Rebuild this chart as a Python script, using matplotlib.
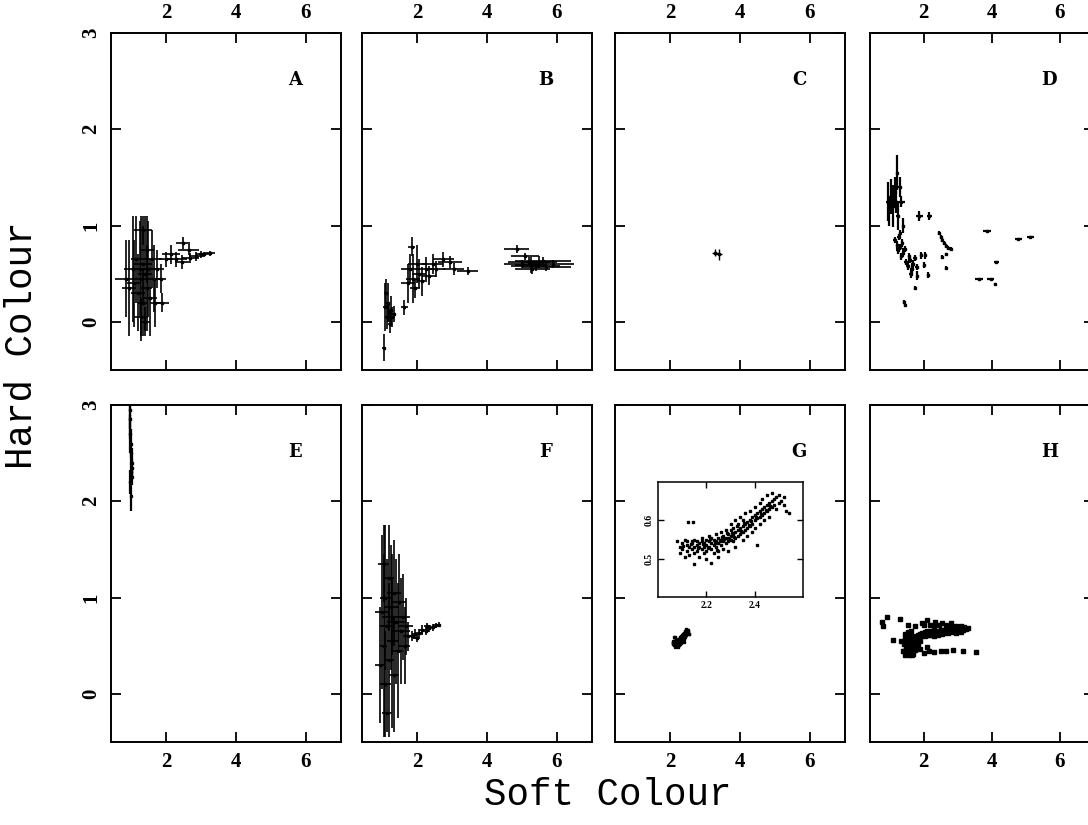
import matplotlib
matplotlib.use("Agg")
import matplotlib.pyplot as plt

# ================================
# DATA: (x, y, x-err, y-err)
# ================================
panel_a = [
    (0.85, 0.45, 0.30, 0.40), (0.95, 0.35, 0.20, 0.50), (1.05, 0.55, 0.25, 0.55),
    (1.10, 0.40, 0.20, 0.45), (1.15, 0.65, 0.15, 0.45), (1.20, 0.30, 0.20, 0.40),
    (1.25, 0.55, 0.20, 0.50), (1.30, 0.45, 0.15, 0.65), (1.35, 0.60, 0.25, 0.40),
    (1.35, 0.20, 0.15, 0.35), (1.40, 0.50, 0.20, 0.60), (1.45, 0.35, 0.15, 0.45),
    (1.45, 0.75, 0.20, 0.35), (1.50, 0.55, 0.25, 0.50), (1.55, 0.25, 0.20, 0.40),
    (1.30, 0.05, 0.20, 0.20), (1.40, 0.00, 0.15, 0.15), (1.60, 0.65, 0.30, 0.30),
    (1.65, 0.45, 0.20, 0.35), (1.70, 0.20, 0.15, 0.25), (1.35, 0.95, 0.25, 0.15),
    (1.75, 0.55, 0.20, 0.20), (1.85, 0.45, 0.15, 0.15), (1.90, 0.20, 0.20, 0.10),
    (2.00, 0.65, 0.20, 0.08), (2.15, 0.70, 0.25, 0.10), (2.30, 0.65, 0.30, 0.08),
    (2.45, 0.62, 0.20, 0.07), (2.50, 0.82, 0.20, 0.06), (2.65, 0.75, 0.30, 0.06),
    (2.70, 0.66, 0.25, 0.05), (2.85, 0.68, 0.20, 0.05), (3.00, 0.70, 0.15, 0.04),
    (3.10, 0.70, 0.15, 0.03), (3.25, 0.71, 0.15, 0.03),
]

panel_b = [
    (1.05, -0.27, 0.05, 0.14), (1.10, 0.15, 0.06, 0.25), (1.12, 0.30, 0.05, 0.15),
    (1.15, 0.05, 0.05, 0.12), (1.18, 0.20, 0.06, 0.20), (1.20, 0.10, 0.05, 0.10),
    (1.22, -0.02, 0.06, 0.10), (1.25, 0.12, 0.05, 0.15), (1.30, 0.05, 0.08, 0.10),
    (1.35, 0.08, 0.06, 0.08), (1.63, 0.15, 0.10, 0.08), (1.75, 0.40, 0.20, 0.20),
    (1.80, 0.55, 0.25, 0.15), (1.85, 0.78, 0.10, 0.10), (1.90, 0.45, 0.20, 0.25),
    (1.95, 0.35, 0.15, 0.10), (2.00, 0.60, 0.25, 0.20), (2.05, 0.50, 0.20, 0.15),
    (2.15, 0.42, 0.15, 0.15), (2.25, 0.55, 0.25, 0.12), (2.35, 0.48, 0.20, 0.10),
    (2.45, 0.60, 0.30, 0.10), (2.55, 0.55, 0.25, 0.08), (2.75, 0.65, 0.30, 0.08),
    (2.95, 0.62, 0.35, 0.06), (3.05, 0.55, 0.30, 0.06), (3.45, 0.53, 0.30, 0.04),
    (4.85, 0.76, 0.35, 0.04), (5.10, 0.68, 0.40, 0.04), (5.20, 0.62, 0.60, 0.05),
    (5.00, 0.60, 0.50, 0.04), (5.40, 0.58, 0.70, 0.05), (5.60, 0.63, 0.80, 0.04),
    (5.30, 0.55, 0.50, 0.05), (5.70, 0.57, 0.70, 0.04), (5.90, 0.60, 0.60, 0.04),
    (5.50, 0.62, 0.50, 0.06), (5.25, 0.59, 0.45, 0.08),
]

panel_c = [(3.30, 0.72, 0.10, 0.04), (3.40, 0.70, 0.08, 0.06)]

panel_d = [
    (0.95, 1.25, 0.05, 0.20), (1.00, 1.15, 0.05, 0.15), (1.05, 1.30, 0.06, 0.18),
    (1.10, 1.20, 0.05, 0.22), (1.15, 1.35, 0.08, 0.15), (1.20, 1.25, 0.06, 0.12),
    (1.22, 1.55, 0.04, 0.18), (1.25, 1.10, 0.05, 0.15), (1.35, 1.25, 0.10, 0.06),
    (1.30, 1.40, 0.04, 0.10), (1.40, 1.00, 0.04, 0.08), (1.88, 1.10, 0.10, 0.05),
    (2.17, 1.10, 0.07, 0.04),
    (1.15, 0.85, 0.05, 0.03), (1.22, 0.80, 0.04, 0.04), (1.28, 0.88, 0.05, 0.03),
    (1.32, 0.78, 0.04, 0.03), (1.25, 0.75, 0.05, 0.05), (1.38, 0.82, 0.05, 0.04),
    (1.40, 0.72, 0.04, 0.05), (1.35, 0.68, 0.03, 0.04), (1.45, 0.76, 0.04, 0.03),
    (1.30, 0.92, 0.03, 0.03),
    (1.50, 0.62, 0.06, 0.03), (1.55, 0.58, 0.05, 0.04), (1.60, 0.64, 0.05, 0.03),
    (1.65, 0.55, 0.04, 0.05), (1.70, 0.60, 0.06, 0.04), (1.75, 0.66, 0.05, 0.03),
    (1.62, 0.50, 0.04, 0.04), (1.80, 0.57, 0.05, 0.03), (1.58, 0.68, 0.03, 0.03),
    (1.94, 0.69, 0.05, 0.04), (2.05, 0.69, 0.05, 0.04), (2.00, 0.59, 0.03, 0.03),
    (1.82, 0.48, 0.04, 0.05), (2.14, 0.49, 0.02, 0.03),
    (1.76, 0.35, 0.02, 0.02), (1.44, 0.21, 0.02, 0.02), (1.47, 0.18, 0.01, 0.02),
    (2.45, 0.92, 0.02, 0.02), (2.50, 0.88, 0.03, 0.02), (2.55, 0.85, 0.02, 0.02),
    (2.60, 0.82, 0.03, 0.02), (2.66, 0.79, 0.03, 0.02), (2.73, 0.77, 0.03, 0.02),
    (2.80, 0.76, 0.03, 0.02),
    (2.55, 0.67, 0.02, 0.02), (2.66, 0.70, 0.02, 0.02), (2.66, 0.56, 0.02, 0.02),
    (3.85, 0.94, 0.12, 0.01), (4.14, 0.62, 0.08, 0.01), (3.62, 0.45, 0.12, 0.01),
    (3.97, 0.45, 0.10, 0.01), (4.11, 0.39, 0.02, 0.01), (4.78, 0.86, 0.10, 0.01),
    (5.13, 0.88, 0.10, 0.01),
]

panel_e = [
    (1.00, 2.05, 0.02, 0.15), (0.98, 2.20, 0.02, 0.12), (1.01, 2.30, 0.03, 0.10),
    (1.02, 2.40, 0.02, 0.15), (0.99, 2.50, 0.02, 0.12), (1.00, 2.60, 0.02, 0.15),
    (0.98, 2.70, 0.02, 0.20), (0.97, 2.85, 0.01, 0.20), (0.96, 2.95, 0.01, 0.20),
    (1.03, 2.35, 0.03, 0.10), (1.02, 2.25, 0.03, 0.08),
]

panel_f = [
    (0.95, 0.30, 0.15, 0.60), (1.00, 0.85, 0.20, 0.80), (1.05, 0.50, 0.10, 0.95),
    (1.10, 1.00, 0.15, 0.75), (1.10, 0.10, 0.15, 0.55), (1.15, 0.70, 0.20, 0.70),
    (1.20, 1.20, 0.15, 0.55), (1.20, 0.35, 0.15, 0.80), (1.25, 0.90, 0.20, 0.65),
    (1.30, 0.55, 0.15, 0.90), (1.35, 1.05, 0.20, 0.55), (1.35, 0.20, 0.15, 0.60),
    (1.40, 0.75, 0.25, 0.65), (1.45, 0.45, 0.15, 0.70), (1.50, 0.95, 0.20, 0.50),
    (1.55, 0.65, 0.25, 0.55), (1.60, 0.80, 0.20, 0.45), (1.65, 0.50, 0.15, 0.40),
    (1.70, 0.70, 0.20, 0.30), (1.15, -0.20, 0.15, 0.20), (1.30, 0.80, 0.30, 0.40),
    (1.05, 1.35, 0.15, 0.40), (1.75, 0.60, 0.15, 0.15),
    (1.85, 0.60, 0.10, 0.05), (1.95, 0.62, 0.10, 0.05), (2.05, 0.63, 0.12, 0.04),
    (2.15, 0.66, 0.10, 0.05), (2.25, 0.65, 0.10, 0.04), (2.35, 0.68, 0.10, 0.04),
    (2.45, 0.69, 0.10, 0.04), (2.55, 0.71, 0.08, 0.03), (2.62, 0.72, 0.06, 0.03),
    (2.00, 0.58, 0.10, 0.04), (2.30, 0.70, 0.10, 0.04),
]

# panel G (also shown zoomed in the inset)
g_x = [
    2.08, 2.09, 2.09, 2.10, 2.10, 2.11, 2.11, 2.12, 2.12, 2.12,
    2.13, 2.13, 2.14, 2.14, 2.14, 2.15, 2.15, 2.15, 2.16, 2.16, 2.16, 2.17, 2.17, 2.17, 2.125, 2.145, 2.15,
    2.18, 2.18, 2.18, 2.19, 2.19, 2.19, 2.20, 2.20, 2.20, 2.20, 2.21, 2.21, 2.21, 2.22, 2.22, 2.22, 2.22, 2.23,
    2.23, 2.23, 2.24, 2.24, 2.24, 2.25, 2.25, 2.25, 2.25, 2.26, 2.26, 2.26, 2.27, 2.27, 2.27,
    2.28, 2.28, 2.28, 2.29, 2.29, 2.29, 2.30, 2.30, 2.30, 2.30, 2.31, 2.31, 2.31, 2.32, 2.32, 2.32, 2.32,
    2.33, 2.33, 2.33, 2.34, 2.34, 2.34, 2.35, 2.35, 2.35, 2.35, 2.36, 2.36, 2.36, 2.37, 2.37, 2.37,
    2.38, 2.38, 2.38, 2.39, 2.39, 2.39, 2.40, 2.40, 2.40, 2.40, 2.41, 2.41, 2.41, 2.42, 2.42, 2.42, 2.42,
    2.43, 2.43, 2.43, 2.44, 2.44, 2.44, 2.45, 2.45, 2.45, 2.46, 2.46, 2.46, 2.47, 2.47, 2.47,
    2.48, 2.48, 2.49, 2.49, 2.50, 2.50, 2.51, 2.52, 2.52, 2.53, 2.54,
    2.105, 2.135, 2.165, 2.185, 2.205, 2.215, 2.235, 2.245, 2.255, 2.265, 2.275, 2.285,
    2.295, 2.305, 2.315, 2.325, 2.345, 2.355, 2.375, 2.385, 2.405, 2.425, 2.445, 2.465,
]
g_y = [
    0.545, 0.530, 0.515, 0.540, 0.525, 0.550, 0.505, 0.535, 0.520, 0.545,
    0.530, 0.510, 0.545, 0.525, 0.540, 0.530, 0.515, 0.550, 0.535, 0.520, 0.545, 0.530, 0.540, 0.505, 0.595, 0.595, 0.485,
    0.525, 0.545, 0.555, 0.530, 0.515, 0.540, 0.535, 0.550, 0.520, 0.500, 0.545, 0.530, 0.560, 0.540, 0.525, 0.490, 0.555, 0.535,
    0.550, 0.515, 0.545, 0.530, 0.565, 0.540, 0.555, 0.520, 0.505, 0.550, 0.535, 0.570, 0.545, 0.560, 0.525,
    0.555, 0.540, 0.575, 0.565, 0.545, 0.520, 0.560, 0.575, 0.550, 0.590, 0.565, 0.545, 0.580, 0.570, 0.555, 0.530, 0.600,
    0.575, 0.560, 0.590, 0.580, 0.565, 0.610, 0.585, 0.570, 0.550, 0.600, 0.590, 0.575, 0.620, 0.595, 0.580, 0.560,
    0.600, 0.585, 0.625, 0.610, 0.590, 0.570, 0.615, 0.600, 0.635, 0.580, 0.620, 0.605, 0.535, 0.625, 0.610, 0.645, 0.590,
    0.630, 0.615, 0.655, 0.635, 0.620, 0.600, 0.640, 0.625, 0.665, 0.645, 0.630, 0.610, 0.650, 0.670, 0.635,
    0.655, 0.640, 0.660, 0.630, 0.645, 0.665, 0.650, 0.640, 0.660, 0.625, 0.620,
    0.533, 0.538, 0.527, 0.537, 0.528, 0.552, 0.542, 0.522, 0.547, 0.557, 0.552, 0.567,
    0.553, 0.568, 0.557, 0.585, 0.572, 0.593, 0.588, 0.598, 0.608, 0.617, 0.628, 0.638,
]

h_x = [
    1.40, 1.42, 1.45, 1.45, 1.48, 1.50, 1.50, 1.52, 1.55, 1.55, 1.58, 1.58, 1.60, 1.60, 1.62,
    1.65, 1.65, 1.68, 1.70, 1.70, 1.72, 1.75, 1.75, 1.78, 1.80, 1.80, 1.82, 1.85, 1.85, 1.88,
    1.90, 1.90, 1.93, 1.95, 1.47, 1.53, 1.42, 1.63, 1.57, 1.67,
    2.00, 2.03, 2.05, 2.08, 2.10, 2.12, 2.15, 2.18, 2.20, 2.23, 2.25, 2.28, 2.30, 2.33, 2.35,
    2.38, 2.40, 2.43, 2.45, 2.48, 2.50, 2.53, 2.55, 2.58, 2.60, 2.63, 2.65, 2.68, 2.70, 2.73,
    2.75, 2.78, 2.80, 2.83, 2.85, 2.88, 2.90, 2.93, 2.95, 2.98, 3.00, 3.05, 3.10, 3.15, 3.20,
    3.25, 3.30, 3.10, 2.95,
    1.30, 1.55, 1.75, 1.95, 2.10, 2.20, 2.35, 2.45, 2.55, 2.65, 2.80, 2.00, 2.30,
    2.00, 2.15, 2.30, 2.50, 2.65, 2.85, 3.15, 3.55, 1.90, 2.10,
    0.78, 0.92, 0.80, 1.10, 1.33,
]
h_y = [
    0.45, 0.52, 0.40, 0.58, 0.48, 0.42, 0.55, 0.50, 0.45, 0.60, 0.40, 0.52, 0.47, 0.57, 0.43,
    0.50, 0.60, 0.45, 0.55, 0.41, 0.50, 0.58, 0.46, 0.53, 0.60, 0.49, 0.56, 0.61, 0.52, 0.58,
    0.62, 0.55, 0.60, 0.63, 0.62, 0.64, 0.44, 0.65, 0.44, 0.40,
    0.62, 0.64, 0.60, 0.63, 0.65, 0.61, 0.63, 0.64, 0.61, 0.65, 0.62, 0.64, 0.60, 0.63, 0.65,
    0.62, 0.64, 0.61, 0.65, 0.63, 0.66, 0.62, 0.64, 0.66, 0.63, 0.65, 0.67, 0.64, 0.66, 0.63,
    0.67, 0.65, 0.68, 0.64, 0.66, 0.69, 0.65, 0.67, 0.70, 0.66, 0.68, 0.67, 0.70, 0.66, 0.69,
    0.67, 0.68, 0.64, 0.63,
    0.78, 0.72, 0.70, 0.74, 0.77, 0.72, 0.75, 0.72, 0.74, 0.72, 0.74, 0.71, 0.70,
    0.42, 0.44, 0.43, 0.45, 0.44, 0.46, 0.45, 0.43, 0.47, 0.49,
    0.75, 0.80, 0.70, 0.56, 0.55,
]

panel_letters = ["A", "B", "C", "D", "E", "F", "G", "H"]
x_ticks = [2, 4, 6]
y_ticks = [0, 1, 2, 3]
inset_xticks = [2.2, 2.4]
inset_yticks = [0.5, 0.6]

# ================================
# LAYOUT (pixels of a 1088x825 canvas)
# ================================
W, H = 1088, 825
col_left = [111, 362, 615, 870]
row_top = [33, 405]
ax_w, ax_h = 230, 337

fig = plt.figure(figsize=(W / 100, H / 100), dpi=100)
axes = []
for r in range(2):
    for c in range(4):
        w = ax_w if c < 3 else 224
        ax = fig.add_axes([col_left[c] / W, 1 - (row_top[r] + ax_h) / H, w / W, ax_h / H])
        ax.set_xlim(0.43, 7.0)
        ax.set_ylim(-0.5, 3.0)
        ax.set_xticks(x_ticks)
        ax.set_yticks(y_ticks)
        ax.tick_params(direction="in", length=7.5, width=1.3, top=True, right=True,
                       labeltop=(r == 0), labelbottom=(r == 1),
                       labelleft=(c == 0), labelright=False, pad=7)
        for sp in ax.spines.values():
            sp.set_linewidth(1.4)
        for lab in ax.get_xticklabels() + ax.get_yticklabels():
            lab.set_fontfamily("Liberation Serif")
            lab.set_fontweight("bold")
            lab.set_fontsize(15)
        if c == 0:
            for lab in ax.get_yticklabels():
                lab.set_rotation(90)
                lab.set_va("center")
        ax.text(0.80, 0.86, panel_letters[r * 4 + c], transform=ax.transAxes,
                ha="center", va="center", fontsize=13, fontweight="bold",
                family="DejaVu Serif")
        axes.append(ax)


def draw_errs(ax, pts, lw=1.0):
    xs = [p[0] for p in pts]
    ys = [p[1] for p in pts]
    xe = [p[2] for p in pts]
    ye = [p[3] for p in pts]
    ax.errorbar(xs, ys, xerr=xe, yerr=ye, fmt="none", ecolor="black",
                elinewidth=lw, capsize=0)
    ax.plot(xs, ys, "s", color="black", ms=2)


draw_errs(axes[0], panel_a, lw=1.2)
draw_errs(axes[1], panel_b, lw=1.2)
draw_errs(axes[2], panel_c)
draw_errs(axes[3], panel_d, lw=1.6)
draw_errs(axes[4], panel_e, lw=1.6)
draw_errs(axes[5], panel_f, lw=1.2)
axes[6].plot(g_x, g_y, "s", color="black", ms=2)
axes[7].plot(h_x, h_y, "s", color="black", ms=2.2)

# ================================
# INSET in panel G
# ================================
ins = fig.add_axes([658 / W, 1 - 597 / H, 145 / W, 115 / H])
ins.plot(g_x, g_y, "s", color="black", ms=1.6)
ins.set_xlim(2.0, 2.6)
ins.set_ylim(0.4, 0.7)
ins.set_xticks(inset_xticks)
ins.set_yticks(inset_yticks)
ins.set_xticklabels([f"{v:.1f}" for v in inset_xticks])
ins.set_yticklabels([f"{v:.1f}" for v in inset_yticks])
ins.tick_params(direction="in", length=4, width=1.0, top=True, right=True,
                labelsize=7, pad=3)
for lab in ins.get_xticklabels() + ins.get_yticklabels():
    lab.set_fontweight("bold")
    lab.set_fontfamily("Liberation Serif")
for lab in ins.get_yticklabels():
    lab.set_rotation(90)
    lab.set_va("center")
for sp in ins.spines.values():
    sp.set_linewidth(1.1)

fig.text(608 / W, 1 - 795 / H, "Soft Colour", ha="center", va="center",
         fontsize=27, family="Liberation Mono")
fig.text(22 / W, 1 - 345 / H, "Hard Colour", ha="center", va="center",
         rotation=90, fontsize=27, family="Liberation Mono")

fig.savefig("out.png", dpi=100)
